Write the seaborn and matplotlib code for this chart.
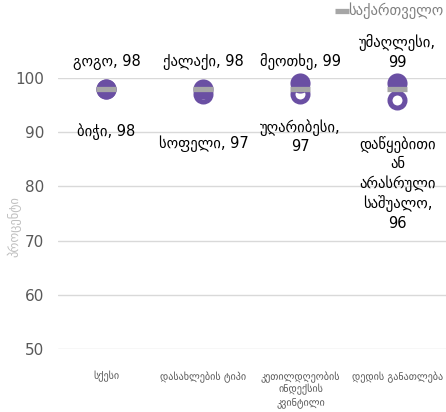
import pandas as pd
import seaborn as sns
import matplotlib.pyplot as plt

# categories and values
categories = ["სქესი", "დასახლების ტიპი", "კეთილდღეობის\nინდექსის\nკვინტილი", "დედის განათლება"]
high_vals = [98, 98, 99, 99]
low_vals = [98, 97, 97, 96]
georgia_vals = [98, 98, 98, 98]
high_labels = ["გოგო, 98", "ქალაქი, 98", "მეოთხე, 99", "უმაღლესი,\n99"]
low_labels = ["ბიჭი, 98", "სოფელი, 97", "უღარიბესი,\n97", "დაწყებითი\nან\nარასრული\nსაშუალო,\n96"]
yticks = [50, 60, 70, 80, 90, 100]

purple = "#6a4fa3"
grey = "#a6a6a6"

sns.set_style("white")
plt.rcParams["font.family"] = ["DejaVu Sans"]

df = pd.DataFrame({"cat": categories, "high": high_vals, "low": low_vals, "geo": georgia_vals})

fig = plt.figure(figsize=(4.46, 4.12), dpi=100)
ax = fig.add_axes([0.13, 0.153, 0.87, 0.658])

sns.scatterplot(data=df, x="cat", y="low", ax=ax, s=117, color="white",
                edgecolor=purple, linewidth=3.6, zorder=3, clip_on=False, legend=False)
sns.scatterplot(data=df, x="cat", y="high", ax=ax, s=210, color=purple,
                edgecolor=purple, linewidth=0, zorder=4, clip_on=False, legend=False)
sns.scatterplot(data=df, x="cat", y="geo", ax=ax, s=190, color=grey, marker="_",
                linewidth=3.8, zorder=5, clip_on=False, label="საქართველო")

# data labels (high ones sit on one line above the plot, low ones below the points)
low_offsets = [-25, -30, -18, -26]
for i, row in df.iterrows():
    ax.annotate(high_labels[i], (i, 1.03), xycoords=ax.get_xaxis_transform(),
                ha="center", va="bottom", fontsize=10.5, color="#000000", linespacing=1.3)
    ax.annotate(low_labels[i], (i, row["low"]), xytext=(0, low_offsets[i]), textcoords="offset points",
                ha="center", va="top", fontsize=10.5, color="#000000", linespacing=1.3)

ax.set_xlim(-0.5, 3.5)
ax.set_ylim(50, 100)
ax.set_yticks(yticks)
ax.yaxis.grid(True, color="#d9d9d9", linewidth=1)
ax.set_axisbelow(True)
for sp in ax.spines.values():
    sp.set_visible(False)
ax.tick_params(axis="y", labelsize=11, labelcolor="#595959", length=0, pad=10)
ax.tick_params(axis="x", labelsize=7.3, labelcolor="#595959", length=0, pad=16)
ax.set_xlabel("")
ax.set_ylabel("პროცენტი", color="#bfbfbf", fontsize=9)
ax.yaxis.set_label_coords(-0.095, 0.45)

leg = ax.legend(loc="upper left", bbox_to_anchor=(0.758, 0.995), bbox_transform=fig.transFigure,
                frameon=False, fontsize=10.5, handlelength=0.5, handletextpad=0.2,
                borderpad=0, borderaxespad=0, markerscale=0.7)
for t in leg.get_texts():
    t.set_color("#808080")

fig.savefig("out.png", dpi=100)
